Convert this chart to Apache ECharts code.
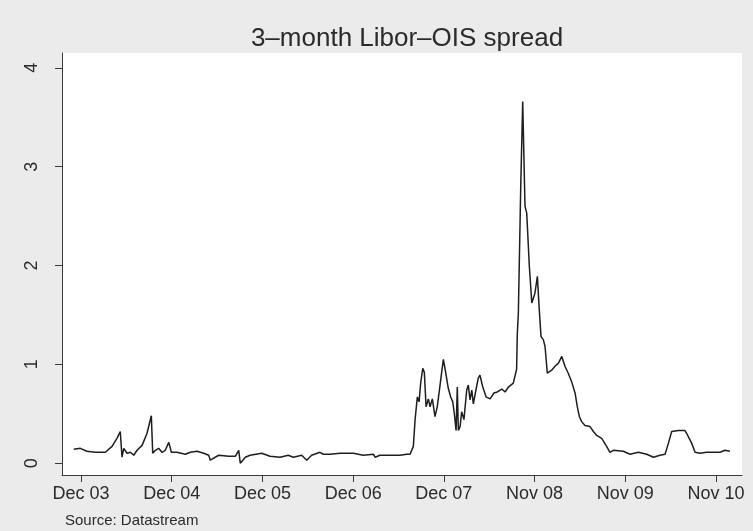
<!DOCTYPE html>
<html>
<head>
<meta charset="utf-8">
<title>3-month Libor–OIS spread</title>
<script src="https://cdn.jsdelivr.net/npm/echarts@6/dist/echarts.min.js"></script>
<style>
  html, body { margin: 0; padding: 0; background: #ebebeb; }
  #chart { width: 753px; height: 531px; }
</style>
</head>
<body>
<div id="chart"></div>
<script>
// Week offsets counted from the first December 2003 observation (52 weeks per year).
const weeks = [
  -4.2, -0.4, 3.4, 8.2, 13.9, 17.8, 20.6, 22.5, 23.5, 24.5, 26.4, 28.3, 30.2, 32.1,
  35.0, 37.8, 40.3, 41.1, 42.6, 44.5, 46.4, 48.3, 50.3, 51.8, 55.0, 59.8, 62.7, 66.5,
  70.3, 73.2, 74.1, 78.9, 84.7, 88.5, 90.4, 91.3, 94.2, 96.9, 103.6, 108.3, 114.1,
  118.8, 121.7, 126.5, 129.4, 132.2, 137.0, 138.9, 142.7, 148.5, 156.1, 161.8, 167.6,
  168.6, 171.4, 179.0, 182.9, 186.7, 188.6, 190.5, 191.5, 192.8, 193.8, 194.7, 195.9,
  196.8, 197.8, 199.1, 200.1, 201.4, 202.9, 204.2, 205.8, 207.7, 209.1, 210.5, 211.9,
  213.1, 214.0, 215.0, 215.7, 216.3, 217.3, 218.2, 219.5, 221.1, 222.0, 223.0, 224.0,
  224.9, 226.4, 227.7, 228.7, 230.3, 232.2, 234.5, 236.7, 238.6, 241.2, 243.1, 245.0,
  247.8, 248.8, 249.7, 250.1, 250.7, 252.1, 253.2, 254.5, 255.5, 257.0, 258.4, 260.2,
  261.6, 262.7, 263.7, 265.0, 266.0, 267.3, 269.8, 271.7, 273.6, 275.6, 277.4, 279.3,
  281.3, 283.2, 284.5, 285.7, 287.0, 288.9, 291.8, 293.7, 295.6, 298.5, 301.3, 303.2,
  305.1, 310.9, 314.7, 319.5, 324.3, 328.1, 331.9, 334.8, 336.7, 338.6, 342.4, 346.2,
  347.2, 350.1, 352.0, 354.8, 358.7, 362.5, 366.3, 369.2, 372.0
];

// Spread, percentage points.
const spread = [
  0.14, 0.15, 0.12, 0.11, 0.11, 0.17, 0.25, 0.32, 0.06, 0.15, 0.10, 0.11, 0.08, 0.13,
  0.18, 0.30, 0.48, 0.10, 0.13, 0.15, 0.11, 0.13, 0.21, 0.11, 0.11, 0.09, 0.11, 0.12,
  0.10, 0.08, 0.03, 0.08, 0.07, 0.07, 0.13, 0.00, 0.06, 0.08, 0.10, 0.07, 0.06,
  0.08, 0.06, 0.08, 0.03, 0.08, 0.11, 0.09, 0.09, 0.10, 0.10, 0.08, 0.09,
  0.06, 0.08, 0.08, 0.08, 0.09, 0.09, 0.17, 0.44, 0.67, 0.62, 0.81, 0.96,
  0.92, 0.57, 0.65, 0.57, 0.65, 0.47, 0.57, 0.79, 1.05, 0.91, 0.76, 0.67,
  0.62, 0.50, 0.33, 0.77, 0.33, 0.37, 0.52, 0.44, 0.74, 0.79, 0.64, 0.74,
  0.60, 0.74, 0.86, 0.89, 0.77, 0.67, 0.65, 0.71, 0.72, 0.75, 0.72, 0.77,
  0.81, 0.81, 0.95, 1.31, 1.52, 2.83, 3.66, 2.60, 2.53, 1.99, 1.62, 1.72,
  1.89, 1.55, 1.28, 1.25, 1.18, 0.91, 0.94, 0.98, 1.01, 1.08, 0.98, 0.91,
  0.82, 0.71, 0.57, 0.47, 0.42, 0.38, 0.37, 0.32, 0.28, 0.25, 0.17, 0.11,
  0.13, 0.12, 0.09, 0.11, 0.09, 0.06, 0.08, 0.09, 0.20, 0.32, 0.33, 0.33,
  0.30, 0.20, 0.11, 0.10, 0.11, 0.11, 0.11, 0.13, 0.12
];

// Axis tick positions and their labels.
const xTickWeeks = [0, 52, 104, 156, 208, 260, 312, 364];
const xTickLabels = ['Dec 03', 'Dec 04', 'Dec 05', 'Dec 06', 'Dec 07', 'Nov 08', 'Nov 09', 'Nov 10'];
const yTicks = [0, 1, 2, 3, 4];

const textColor = '#2b2b2b';
const axisColor = '#3a3a3a';
const fontFamily = '"Liberation Sans", Arial, Helvetica, sans-serif';

const chart = echarts.init(document.getElementById('chart'), null, { renderer: 'canvas' });

chart.setOption({
  backgroundColor: '#ebebeb',
  animation: false,
  title: {
    text: '3–month Libor–OIS spread',
    left: 402,
    top: 21,
    textAlign: 'center',
    textStyle: { fontFamily, fontSize: 26, fontWeight: 'normal', color: textColor }
  },
  graphic: [{
    type: 'text',
    left: 65,
    top: 513,
    style: { text: 'Source: Datastream', font: '15px ' + fontFamily, fill: textColor }
  }],
  grid: {
    left: 62, right: 11, top: 53, bottom: 56,
    show: true, backgroundColor: '#ffffff', borderWidth: 0
  },
  xAxis: {
    type: 'value',
    min: -10.9,
    max: 378.9,
    axisLine: { show: true, onZero: false, lineStyle: { color: axisColor, width: 1 } },
    axisTick: { show: true, customValues: xTickWeeks, length: 7, lineStyle: { color: axisColor } },
    axisLabel: {
      customValues: xTickWeeks,
      margin: 10,
      fontFamily, fontSize: 18, color: textColor,
      formatter: v => xTickLabels[xTickWeeks.indexOf(Math.round(v))] || ''
    },
    splitLine: { show: false }
  },
  yAxis: {
    type: 'value',
    min: -0.12,
    max: 4.15,
    axisLine: { show: true, onZero: false, lineStyle: { color: axisColor, width: 1 } },
    axisTick: { show: true, customValues: yTicks, length: 7, lineStyle: { color: axisColor } },
    axisLabel: {
      customValues: yTicks,
      rotate: 90,
      margin: 21,
      fontFamily, fontSize: 18, color: textColor
    },
    splitLine: { show: false }
  },
  series: [{
    type: 'line',
    data: weeks.map((w, i) => [w, spread[i]]),
    showSymbol: false,
    lineStyle: { color: '#1e1e1e', width: 1.5 },
    silent: true
  }]
});
</script>
</body>
</html>
